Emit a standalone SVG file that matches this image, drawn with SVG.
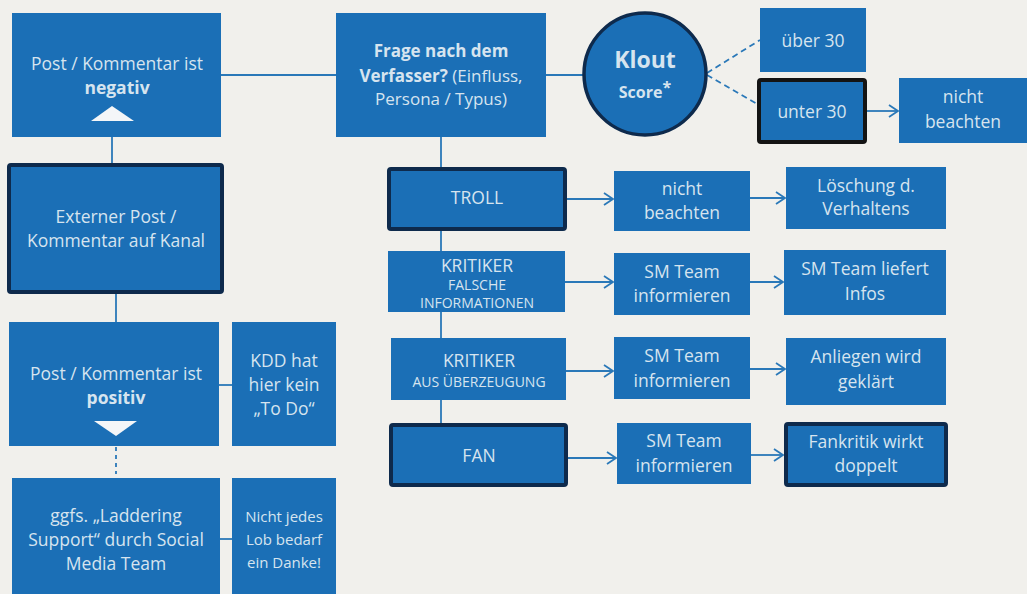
<svg xmlns="http://www.w3.org/2000/svg" width="1027" height="594" viewBox="0 0 1027 594">
<defs>
<marker id="arr" markerUnits="userSpaceOnUse" markerWidth="14" markerHeight="16" refX="10" refY="7" orient="auto">
<path d="M1,1 L10,7 L1,13" fill="none" stroke="#2a78b8" stroke-width="1.8"/>
</marker>
</defs>
<style>
.bx{fill:#1b6fb6}
.bd{fill:#1b6fb6;stroke:#0e2a4c;stroke-width:4}
.bk{fill:#1b6fb6;stroke:#141414;stroke-width:4}
text{font-family:"Open Sans","Liberation Sans",sans-serif;fill:#d6e4ef;text-anchor:middle;font-size:17.5px}
.b{font-weight:bold}
.s{font-size:14px}
.m{font-size:15px}
.f{font-size:17px}
.ln{fill:none;stroke:#2a78b8;stroke-width:1.8}
.dash{stroke-dasharray:6 4}
</style>
<rect width="1027" height="594" fill="#f1f0ec"/>
<g id="connectors">
<path class="ln" d="M221 75 H336"/>
<path class="ln" d="M112 137 V163"/>
<path class="ln" d="M116 294 V322"/>
<path class="ln" d="M219 385 H232"/>
<path class="ln" d="M116 447 V474" stroke-dasharray="4 4"/>
<path class="ln" d="M220 539 H232"/>
<path class="ln" d="M546 75 H584"/>
<path class="ln dash" d="M707 73 L760 40"/>
<path class="ln dash" d="M707 75 L757 104"/>
<path class="ln" d="M867 111 H898" marker-end="url(#arr)"/>
<path class="ln" d="M441 137 V423"/>
<path class="ln" d="M567 199 H613" marker-end="url(#arr)"/>
<path class="ln" d="M565 282 H613" marker-end="url(#arr)"/>
<path class="ln" d="M566 371 H613" marker-end="url(#arr)"/>
<path class="ln" d="M568 458 H616" marker-end="url(#arr)"/>
<path class="ln" d="M750 198 H785" marker-end="url(#arr)"/>
<path class="ln" d="M750 282 H783" marker-end="url(#arr)"/>
<path class="ln" d="M750 369 H785" marker-end="url(#arr)"/>
<path class="ln" d="M751 455 H783" marker-end="url(#arr)"/>
</g>
<g id="negativ">
<rect class="bx" x="12" y="13" width="209" height="124"/>
<text x="117" y="70">Post / Kommentar ist</text>
<text x="117" y="94" class="b">negativ</text>
<path d="M91 121 L112 106 L134 121 Z" fill="#f4f6f8"/>
</g>
<g id="extern">
<rect class="bd" x="9" y="165" width="213" height="127" rx="2"/>
<text x="116" y="223">Externer Post /</text>
<text x="116" y="247">Kommentar auf Kanal</text>
</g>
<g id="positiv">
<rect class="bx" x="9" y="322" width="210" height="124"/>
<text x="116" y="380">Post / Kommentar ist</text>
<text x="116" y="404" class="b">positiv</text>
<path d="M94 421 L137 421 L116 436 Z" fill="#f4f6f8"/>
</g>
<g id="kdd">
<rect class="bx" x="232" y="322" width="104" height="124"/>
<text x="284" y="367">KDD hat</text>
<text x="284" y="391">hier kein</text>
<text x="284" y="415">„To Do“</text>
</g>
<g id="ggfs">
<rect class="bx" x="12" y="478" width="208" height="120"/>
<text x="116" y="522">ggfs. „Laddering</text>
<text x="116" y="546">Support“ durch Social</text>
<text x="116" y="570">Media Team</text>
</g>
<g id="lob">
<rect class="bx" x="232" y="478" width="104" height="120"/>
<text x="284" y="522" class="m">Nicht jedes</text>
<text x="284" y="545" class="m">Lob bedarf</text>
<text x="284" y="568" class="m">ein Danke!</text>
</g>
<g id="frage">
<rect class="bx" x="336" y="13" width="210" height="124"/>
<text x="441" y="57" class="b f">Frage nach dem</text>
<text x="441" y="82" class="f"><tspan class="b">Verfasser?</tspan> (Einfluss,</text>
<text x="441" y="105" class="f">Persona / Typus)</text>
</g>
<g id="klout">
<circle cx="645" cy="74" r="61" fill="#1b6fb6" stroke="#0e2a4c" stroke-width="3.5"/>
<text x="645" y="68" class="b" style="font-size:23px">Klout</text>
<text x="645" y="98" class="b" style="font-size:16px">Score<tspan dy="-5" style="font-size:16px">*</tspan></text>
</g>
<g id="ueber30">
<rect class="bx" x="760" y="8" width="106" height="64"/>
<text x="813" y="47">über 30</text>
</g>
<g id="unter30">
<rect class="bk" x="759" y="80" width="106" height="62" rx="2"/>
<text x="812" y="118">unter 30</text>
</g>
<g id="nicht1">
<rect class="bx" x="899" y="78" width="128" height="65"/>
<text x="963" y="103">nicht</text>
<text x="963" y="128">beachten</text>
</g>
<g id="troll">
<rect class="bd" x="389" y="169" width="176" height="60" rx="2"/>
<text x="477" y="204">TROLL</text>
</g>
<g id="nicht2">
<rect class="bx" x="614" y="171" width="136" height="60"/>
<text x="682" y="195">nicht</text>
<text x="682" y="219">beachten</text>
</g>
<g id="loeschung">
<rect class="bx" x="786" y="167" width="160" height="62"/>
<text x="866" y="192">Löschung d.</text>
<text x="866" y="215">Verhaltens</text>
</g>
<g id="kritiker1">
<rect class="bx" x="388" y="251" width="177" height="61"/>
<text x="477" y="272">KRITIKER</text>
<text x="477" y="290" class="s">FALSCHE</text>
<text x="477" y="308" class="s">INFORMATIONEN</text>
</g>
<g id="sm1">
<rect class="bx" x="614" y="253" width="136" height="62"/>
<text x="682" y="278">SM Team</text>
<text x="682" y="302">informieren</text>
</g>
<g id="liefert">
<rect class="bx" x="784" y="250" width="162" height="65"/>
<text x="865" y="275">SM Team liefert</text>
<text x="865" y="300">Infos</text>
</g>
<g id="kritiker2">
<rect class="bx" x="391" y="338" width="175" height="62"/>
<text x="479" y="367">KRITIKER</text>
<text x="479" y="387" class="s">AUS ÜBERZEUGUNG</text>
</g>
<g id="sm2">
<rect class="bx" x="614" y="337" width="136" height="62"/>
<text x="682" y="362">SM Team</text>
<text x="682" y="387">informieren</text>
</g>
<g id="anliegen">
<rect class="bx" x="786" y="338" width="160" height="67"/>
<text x="866" y="363">Anliegen wird</text>
<text x="866" y="388">geklärt</text>
</g>
<g id="fan">
<rect class="bd" x="391" y="425" width="175" height="60" rx="2"/>
<text x="479" y="462">FAN</text>
</g>
<g id="sm3">
<rect class="bx" x="617" y="423" width="134" height="61"/>
<text x="684" y="447">SM Team</text>
<text x="684" y="472">informieren</text>
</g>
<g id="fankritik">
<rect class="bd" x="786" y="424" width="160" height="61" rx="2"/>
<text x="866" y="448">Fankritik wirkt</text>
<text x="866" y="472">doppelt</text>
</g>
</svg>
